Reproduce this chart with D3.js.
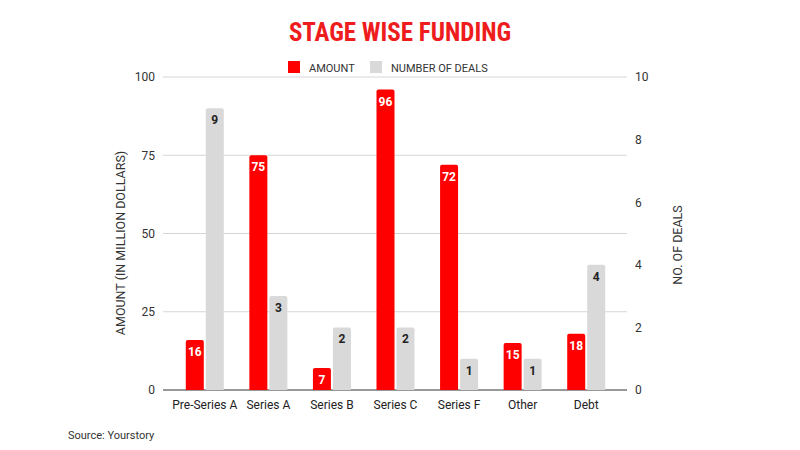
<!DOCTYPE html>
<html>
<head>
<meta charset="utf-8">
<script src="https://cdn.jsdelivr.net/npm/d3@7"></script>
<style>
  body { margin: 0; background: #fff; }
  text { font-family: Roboto, "Liberation Sans", sans-serif; }
</style>
</head>
<body>
<div id="chart"></div>
<script>
// chart size
var w = 800;
var h = 450;

// data
var stages = ["Pre-Series A", "Series A", "Series B", "Series C", "Series F", "Other", "Debt"];
var amounts = [16, 75, 7, 96, 72, 15, 18];
var deals = [9, 3, 2, 2, 1, 1, 4];
var leftTicks = [0, 25, 50, 75, 100];
var rightTicks = [0, 2, 4, 6, 8, 10];

var red = "#ff0000";
var grey = "#d9d9d9";

var svg = d3.select("#chart").append("svg")
    .attr("width", w)
    .attr("height", h);

var xScale = d3.scaleBand()
    .domain(stages)
    .range([173, 618]);

var yLeft = d3.scaleLinear().domain([0, 100]).range([390, 77]);
var yRight = d3.scaleLinear().domain([0, 10]).range([390, 77]);

var barW = 18;

// gridlines
svg.selectAll("line.grid")
   .data(leftTicks)
   .enter()
   .append("line")
   .attr("x1", 163)
   .attr("x2", 627)
   .attr("y1", function(d){ return yLeft(d); })
   .attr("y2", function(d){ return yLeft(d); })
   .style("stroke", function(d){ return d === 0 ? "#333" : "#d6d6d6"; })
   .style("stroke-width", 1);

// left axis
var yAxisL = d3.axisLeft(yLeft).tickValues(leftTicks).tickSize(0).tickPadding(8);
var gL = svg.append("g").attr("transform", "translate(163,0)").call(yAxisL);
gL.select(".domain").remove();
gL.selectAll("text").style("font-size", "12px").style("fill", "#333");

// right axis
var yAxisR = d3.axisRight(yRight).tickValues(rightTicks).tickSize(0).tickPadding(8);
var gR = svg.append("g").attr("transform", "translate(627,0)").call(yAxisR);
gR.select(".domain").remove();
gR.selectAll("text").style("font-size", "12px").style("fill", "#333");

// x axis
var xAxis = d3.axisBottom(xScale).tickSize(0).tickPadding(10);
var gX = svg.append("g").attr("transform", "translate(0,390)").call(xAxis);
gX.select(".domain").remove();
gX.selectAll("text").style("font-size", "12px").style("fill", "#222");

// rounded-top bar path
function barPath(x, y, bw, bh) {
    var r = Math.min(2, bh);
    return "M" + x + "," + (y + bh) +
        "V" + (y + r) + "Q" + x + "," + y + " " + (x + r) + "," + y +
        "H" + (x + bw - r) + "Q" + (x + bw) + "," + y + " " + (x + bw) + "," + (y + r) +
        "V" + (y + bh) + "Z";
}

var groups = svg.selectAll("g.stage")
    .data(stages)
    .enter()
    .append("g")
    .attr("class", "stage");

// amount bars
groups.append("path")
    .attr("d", function(d, i) {
        var cx = xScale(d) + xScale.bandwidth() / 2;
        return barPath(cx - barW - 1, yLeft(amounts[i]), barW, 390 - yLeft(amounts[i]));
    })
    .style("fill", red);

// deals bars
groups.append("path")
    .attr("d", function(d, i) {
        var cx = xScale(d) + xScale.bandwidth() / 2;
        return barPath(cx + 1, yRight(deals[i]), barW, 390 - yRight(deals[i]));
    })
    .style("fill", grey);

// value labels
groups.append("text")
    .attr("x", function(d) { return xScale(d) + xScale.bandwidth() / 2 - 1 - barW / 2; })
    .attr("y", function(d, i) { return yLeft(amounts[i]) + 16; })
    .attr("text-anchor", "middle")
    .style("font-size", "12px")
    .style("font-weight", "bold")
    .style("fill", "#fff")
    .text(function(d, i) { return amounts[i]; });

groups.append("text")
    .attr("x", function(d) { return xScale(d) + xScale.bandwidth() / 2 + 1 + barW / 2; })
    .attr("y", function(d, i) { return yRight(deals[i]) + 16; })
    .attr("text-anchor", "middle")
    .style("font-size", "12px")
    .style("font-weight", "bold")
    .style("fill", "#222")
    .text(function(d, i) { return deals[i]; });

// title
svg.append("text")
    .attr("x", 400)
    .attr("y", 41)
    .attr("text-anchor", "middle")
    .style("font-family", "'Liberation Sans Narrow', 'Roboto Condensed', sans-serif")
    .style("font-size", "25px")
    .style("font-weight", "bold")
    .style("fill", "#ee1c1c")
    .text("STAGE WISE FUNDING");

// legend
var legend = [["AMOUNT", red, 288], ["NUMBER OF DEALS", grey, 370]];
legend.forEach(function(l) {
    svg.append("rect").attr("x", l[2]).attr("y", 61).attr("width", 12).attr("height", 12).style("fill", l[1]);
    svg.append("text").attr("x", l[2] + 21).attr("y", 71.5)
        .style("font-size", "11px").style("fill", "#333").text(l[0]);
});

// axis titles
svg.append("text")
    .attr("transform", "translate(125,243) rotate(-90)")
    .attr("text-anchor", "middle")
    .style("font-size", "12.5px")
    .style("fill", "#333")
    .text("AMOUNT (IN MILLION DOLLARS)");

svg.append("text")
    .attr("transform", "translate(682,245) rotate(-90)")
    .attr("text-anchor", "middle")
    .style("font-size", "12.5px")
    .style("fill", "#333")
    .text("NO. OF DEALS");

// source
svg.append("text")
    .attr("x", 68)
    .attr("y", 439)
    .style("font-size", "11px")
    .style("fill", "#333")
    .text("Source: Yourstory");
</script>
</body>
</html>
